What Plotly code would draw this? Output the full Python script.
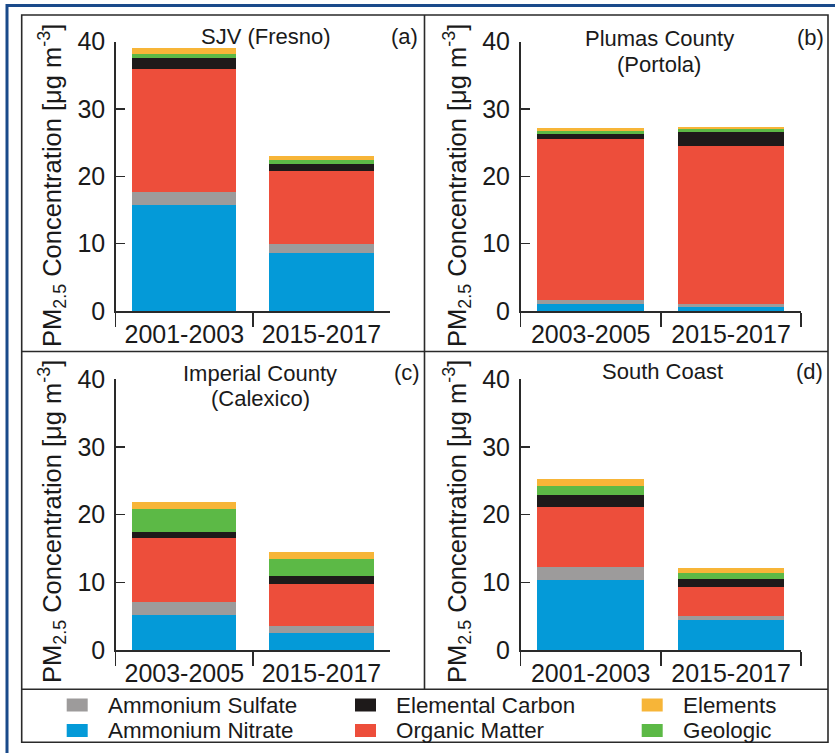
import plotly.graph_objects as go

W, H = 835, 753

# ---------------- data ----------------
PANEL_TITLES = [["SJV (Fresno)"], ["Plumas County", "(Portola)"],
                ["Imperial County", "(Calexico)"], ["South Coast"]]
PANEL_TAGS = ["(a)", "(b)", "(c)", "(d)"]
PERIODS = [["2001-2003", "2015-2017"], ["2003-2005", "2015-2017"],
           ["2003-2005", "2015-2017"], ["2001-2003", "2015-2017"]]

COMPONENTS = ["Ammonium Nitrate", "Ammonium Sulfate", "Organic Matter",
              "Elemental Carbon", "Geologic", "Elements"]
AMMONIUM_NITRATE = [[15.7, 8.65], [1.05, 0.65], [5.2, 2.55], [10.4, 4.45]]
AMMONIUM_SULFATE = [[2.05, 1.35], [0.6, 0.4], [1.85, 1.05], [1.8, 0.6]]
ORGANIC_MATTER = [[18.25, 10.8], [23.85, 23.45], [9.55, 6.2], [8.9, 4.3]]
ELEMENTAL_CARBON = [[1.6, 1.1], [0.8, 2.05], [0.85, 1.1], [1.75, 1.1]]
GEOLOGIC = [[0.5, 0.6], [0.45, 0.45], [3.35, 2.55], [1.45, 0.95]]
ELEMENTS = [[1.0, 0.45], [0.4, 0.3], [1.1, 1.0], [0.9, 0.65]]
SERIES = [AMMONIUM_NITRATE, AMMONIUM_SULFATE, ORGANIC_MATTER,
          ELEMENTAL_CARBON, GEOLOGIC, ELEMENTS]
COLORS = ["#049ad8", "#9d9b9b", "#ed4e3b", "#1e1a1a", "#5cb946", "#f7b538"]

Y_TICKS = [0, 10, 20, 30, 40]
Y_TITLE = "PM<sub>2.5</sub> Concentration [μg m<sup>-3</sup>]"

# legend layout: rows/cols of component names
LEGEND_GRID = [["Ammonium Sulfate", "Elemental Carbon", "Elements"],
               ["Ammonium Nitrate", "Organic Matter", "Geologic"]]

# ---------------- helpers ----------------
def px(x):
    return x / W

def py(y):
    return 1 - y / H

FONT = "Liberation Sans, Arial, Helvetica, sans-serif"
TXT = "#1a1a1a"
LINE = "#2a2a2a"

# plot-area pixel geometry per panel: (x_left, x_right, y_zero, y_forty)
GEOM = [(115.7, 390.0, 311.0, 41.7), (520.5, 801.2, 311.0, 41.7),
        (115.7, 390.0, 650.0, 379.3), (520.5, 801.2, 650.0, 379.3)]

fig = go.Figure()

for p in range(4):
    xa = "x" if p == 0 else f"x{p+1}"
    ya = "y" if p == 0 else f"y{p+1}"
    for s, name in enumerate(COMPONENTS):
        fig.add_trace(go.Bar(
            x=PERIODS[p], y=SERIES[s][p], name=name,
            marker=dict(color=COLORS[s], line=dict(width=0)),
            xaxis=xa, yaxis=ya, showlegend=False, hoverinfo="skip",
        ))

layout = dict(
    width=W, height=H, barmode="stack", bargap=0.24, autosize=False,
    margin=dict(l=0, r=0, t=0, b=0, pad=0, autoexpand=False),
    paper_bgcolor="white", plot_bgcolor="white",
    font=dict(family=FONT, color=TXT),
    showlegend=False,
)

for p in range(4):
    xl, xr, y0, y40 = GEOM[p]
    xk = "xaxis" if p == 0 else f"xaxis{p+1}"
    yk = "yaxis" if p == 0 else f"yaxis{p+1}"
    ya = "y" if p == 0 else f"y{p+1}"
    xa = "x" if p == 0 else f"x{p+1}"
    layout[xk] = dict(
        domain=[px(xl), px(xr)], anchor=ya, type="category",
        showline=True, linecolor=LINE, linewidth=1.5,
        ticks="outside", tickson="boundaries", ticklen=14, tickwidth=1.5,
        tickcolor=LINE, showgrid=False, zeroline=False, automargin=False,
        tickfont=dict(size=25, color=TXT, family=FONT),
        range=[-0.5, 1.5], fixedrange=True,
    )
    layout[yk] = dict(
        domain=[py(y0), py(y40)], anchor=xa, range=[0, 40],
        tickvals=Y_TICKS, showline=True, linecolor=LINE, linewidth=1.5,
        ticks="inside", ticklen=9, tickwidth=1.5, tickcolor=LINE,
        showgrid=False, zeroline=False, ticklabelstandoff=4, automargin=False,
        tickfont=dict(size=25, color=TXT, family=FONT),
        fixedrange=True,
    )

fig.update_layout(**layout)

ann = []
shapes = []

# panel titles, tags, y-axis titles
TITLE_POS = [(266, [37]), (659, [39, 64]), (260, [373, 398.5]), (662, [371.5])]
TAG_POS = [(419, 37), (825, 38), (421, 372), (824, 371)]
YT_POS = [(52, 186), (457, 186), (52, 522), (457, 522)]
for p in range(4):
    cx, ys = TITLE_POS[p]
    for line, yy in zip(PANEL_TITLES[p], ys):
        ann.append(dict(text=line, x=px(cx), y=py(yy), xref="paper", yref="paper",
                        xanchor="center", yanchor="middle", showarrow=False,
                        font=dict(size=22, color=TXT, family=FONT)))
    tx, ty = TAG_POS[p]
    ann.append(dict(text=PANEL_TAGS[p], x=px(tx), y=py(ty), xref="paper", yref="paper",
                    xanchor="right", yanchor="middle", showarrow=False, borderpad=0,
                    font=dict(size=22, color=TXT, family=FONT)))
    yx, yy = YT_POS[p]
    ann.append(dict(text=Y_TITLE, x=px(yx), y=py(yy), xref="paper", yref="paper",
                    xanchor="center", yanchor="middle", textangle=-90, showarrow=False,
                    font=dict(size=25.5, color=TXT, family=FONT)))

# legend (drawn)
COL_SQ_X = [66.7, 355.0, 641.7]
ROW_Y = [705.0, 730.5]
for r, row in enumerate(LEGEND_GRID):
    for c, name in enumerate(row):
        col = COLORS[COMPONENTS.index(name)]
        x0 = COL_SQ_X[c]
        yc = ROW_Y[r]
        shapes.append(dict(type="rect", xref="paper", yref="paper",
                           x0=px(x0), x1=px(x0 + 21), y0=py(yc + 6.5), y1=py(yc - 6.5),
                           fillcolor=col, line=dict(width=0)))
        ann.append(dict(text=name, x=px(x0 + 40), y=py(yc), xref="paper", yref="paper",
                        xanchor="left", yanchor="middle", showarrow=False, borderpad=0,
                        font=dict(size=22.4, color=TXT, family=FONT)))

# frame lines
NAVY = "#1a4a8a"
shapes += [
    dict(type="line", xref="paper", yref="paper", x0=px(7), x1=px(835), y0=py(5.5), y1=py(5.5),
         line=dict(color=NAVY, width=3)),
    dict(type="line", xref="paper", yref="paper", x0=px(7), x1=px(7), y0=py(4), y1=py(753),
         line=dict(color=NAVY, width=3)),
    dict(type="rect", xref="paper", yref="paper", x0=px(21.7), x1=px(828), y0=py(742.3), y1=py(15),
         line=dict(color=LINE, width=1.6)),
    dict(type="line", xref="paper", yref="paper", x0=px(21.7), x1=px(828), y0=py(351.5), y1=py(351.5),
         line=dict(color=LINE, width=1.6)),
    dict(type="line", xref="paper", yref="paper", x0=px(424.5), x1=px(424.5), y0=py(15), y1=py(689.3),
         line=dict(color=LINE, width=1.6)),
    dict(type="line", xref="paper", yref="paper", x0=px(21.7), x1=px(828), y0=py(689.3), y1=py(689.3),
         line=dict(color=LINE, width=1.6)),
]

fig.update_layout(annotations=ann, shapes=shapes)
fig.write_html(
    "out.html",
    config={"displayModeBar": False, "staticPlot": True},
    post_script="document.body.style.margin='0';document.body.style.overflow='hidden';",
)
